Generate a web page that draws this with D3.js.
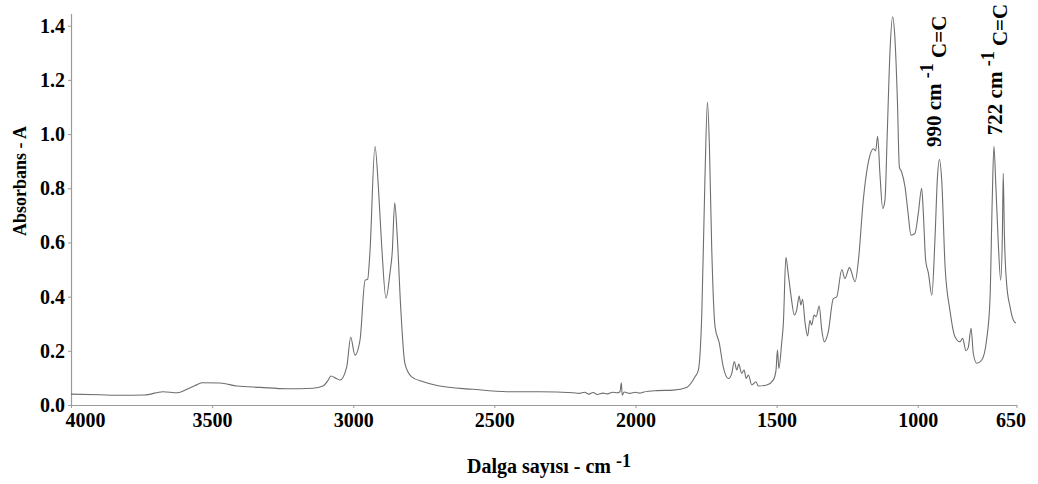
<!DOCTYPE html>
<html><head><meta charset="utf-8">
<script src="https://cdn.jsdelivr.net/npm/d3@7"></script>
<style>body{margin:0;background:#fff}svg{display:block}</style>
</head><body>
<svg id="chart" width="1038" height="484"></svg>
<script>
// ---- data (wavenumber cm-1, absorbance) ----
const wavenumbers = [4000,3900,3826,3740,3674,3624,3589,3560,3536,3472,3412,3330,3235,3143,3107,3090,3079,3060,3047,3023,3009,2994,2976,2958,2949,2941,2923,2911,2899,2884,2870,2862,2853,2844,2832,2817,2793,2752,2699,2576,2455,2338,2221,2200,2180,2165,2150,2135,2115,2100,2080,2065,2055,2050,2047,2040,2020,2000,1985,1970,1925,1867,1819,1789,1777,1765,1754,1745,1738,1730,1718,1703,1689,1671,1659,1650,1641,1634,1624,1615,1608,1600,1588,1573,1565,1535,1512,1502,1497,1492,1482,1476,1467,1459,1450,1437,1429,1420,1414,1408,1399,1390,1382,1376,1367,1360,1349,1340,1331,1317,1299,1287,1269,1258,1242,1222,1210,1193,1171,1157,1149,1142,1134,1124,1116,1108,1098,1089,1081,1072,1065,1057,1045,1034,1024,1010,998,986,980,972,962,950,939,930,923,915,903,886,868,850,841,829,821,811,803,791,773,756,744,736,730,723,715,706,700,697,693,685,673,661,652];
const absorbance = [0.040,0.038,0.036,0.037,0.049,0.045,0.058,0.072,0.082,0.081,0.070,0.065,0.060,0.062,0.070,0.090,0.107,0.098,0.092,0.141,0.250,0.184,0.240,0.461,0.464,0.561,0.955,0.805,0.584,0.394,0.486,0.561,0.746,0.621,0.363,0.154,0.104,0.086,0.071,0.058,0.049,0.049,0.045,0.043,0.047,0.040,0.046,0.039,0.044,0.041,0.047,0.045,0.049,0.082,0.036,0.048,0.043,0.047,0.044,0.048,0.053,0.055,0.065,0.104,0.130,0.338,0.830,1.118,0.953,0.584,0.289,0.228,0.141,0.098,0.116,0.160,0.129,0.151,0.117,0.129,0.098,0.111,0.074,0.086,0.070,0.074,0.092,0.129,0.203,0.135,0.229,0.302,0.545,0.486,0.412,0.332,0.350,0.402,0.369,0.390,0.302,0.255,0.313,0.295,0.332,0.326,0.365,0.277,0.233,0.270,0.393,0.399,0.500,0.467,0.507,0.455,0.535,0.755,0.915,0.946,0.938,0.992,0.855,0.725,0.756,1.000,1.310,1.433,1.358,1.125,0.878,0.860,0.805,0.707,0.627,0.633,0.707,0.800,0.707,0.535,0.486,0.405,0.609,0.842,0.906,0.830,0.510,0.350,0.252,0.233,0.246,0.200,0.212,0.283,0.190,0.154,0.166,0.240,0.387,0.756,0.955,0.805,0.609,0.461,0.633,0.855,0.633,0.448,0.363,0.313,0.303];
const xTicks = [4000,3500,3000,2500,2000,1500,1000,650];
const yTicks = [0.0,0.2,0.4,0.6,0.8,1.0,1.2,1.4];
const xTitleText = "Dalga sayısı - cm";
const xTitleSup = "-1";
const yTitleText = "Absorbans - A";
const annotationMain = ["990 cm", "722 cm"];
const annotationSup = ["-1", "-1"];
const annotationGroup = ["C=C", "C=C"];

// ---- layout ----
const svg = d3.select("#chart");
const font = "'Liberation Serif','Times New Roman',serif";
const x = d3.scaleLinear().domain([4000, 650]).range([71, 1016.5]);
const y = d3.scaleLinear().domain([0, 1.445]).range([405, 13.5]);
const axisColor = "#9a9a9a";

// x axis
const gx = svg.append("g").attr("transform", "translate(0,405)")
  .call(d3.axisBottom(x).tickValues(xTicks).tickFormat(d3.format("d")).tickSize(3).tickSizeOuter(0).tickPadding(5));
gx.select(".domain").attr("stroke", axisColor).attr("stroke-width", 1.2);
gx.selectAll(".tick line").attr("stroke", axisColor);
gx.selectAll(".tick text").attr("font-family", font).attr("font-weight", "bold")
  .attr("font-size", 20).attr("fill", "#000");
gx.selectAll(".tick text").filter(d => d === 4000).attr("text-anchor", "start").attr("x", -6);
gx.selectAll(".tick text").filter(d => d === 650).attr("x", -6);

// y axis
const gy = svg.append("g").attr("transform", "translate(71,0)")
  .call(d3.axisLeft(y).tickValues(yTicks).tickFormat(d3.format(".1f")).tickSize(3).tickSizeOuter(0).tickPadding(3));
gy.select(".domain").attr("stroke", axisColor).attr("stroke-width", 1.2);
gy.selectAll(".tick line").attr("stroke", axisColor);
gy.selectAll(".tick text").attr("font-family", font).attr("font-weight", "bold")
  .attr("font-size", 20).attr("fill", "#000");

// spectrum
const pts = wavenumbers.map((w, i) => [w, absorbance[i]]);
const line = d3.line().x(d => x(d[0])).y(d => y(d[1])).curve(d3.curveMonotoneX);
svg.append("path").datum(pts).attr("d", line)
  .attr("fill", "none").attr("stroke", "#6e6e6e").attr("stroke-width", 1.1)
  .attr("stroke-linejoin", "round");

// axis titles
const xt = svg.append("text").attr("x", 549).attr("y", 473).attr("text-anchor", "middle")
  .attr("font-family", font).attr("font-weight", "bold").attr("font-size", 20).attr("fill", "#000");
xt.append("tspan").text(xTitleText + " ");
xt.append("tspan").attr("dy", -6).attr("font-size", 18).text(xTitleSup);

svg.append("text").attr("transform", "translate(26,181) rotate(-90)").attr("text-anchor", "middle")
  .attr("font-family", font).attr("font-weight", "bold").attr("font-size", 18).attr("fill", "#000")
  .text(yTitleText);

// annotations (rotated)
const annAnchors = [[917, 0.952], [703, 0.996]];
annotationMain.forEach((t, i) => {
  const tx = x(annAnchors[i][0]), ty = y(annAnchors[i][1]);
  const txt = svg.append("text").attr("transform", `translate(${tx},${ty}) rotate(-90)`)
    .attr("font-family", font).attr("font-weight", "bold").attr("font-size", 21).attr("fill", "#000");
  txt.append("tspan").text(t + " ");
  txt.append("tspan").attr("dy", -8).attr("font-size", 18).text(annotationSup[i]);
  txt.append("tspan").attr("dy", 13).text(" " + annotationGroup[i]);
});
</script>
</body></html>
